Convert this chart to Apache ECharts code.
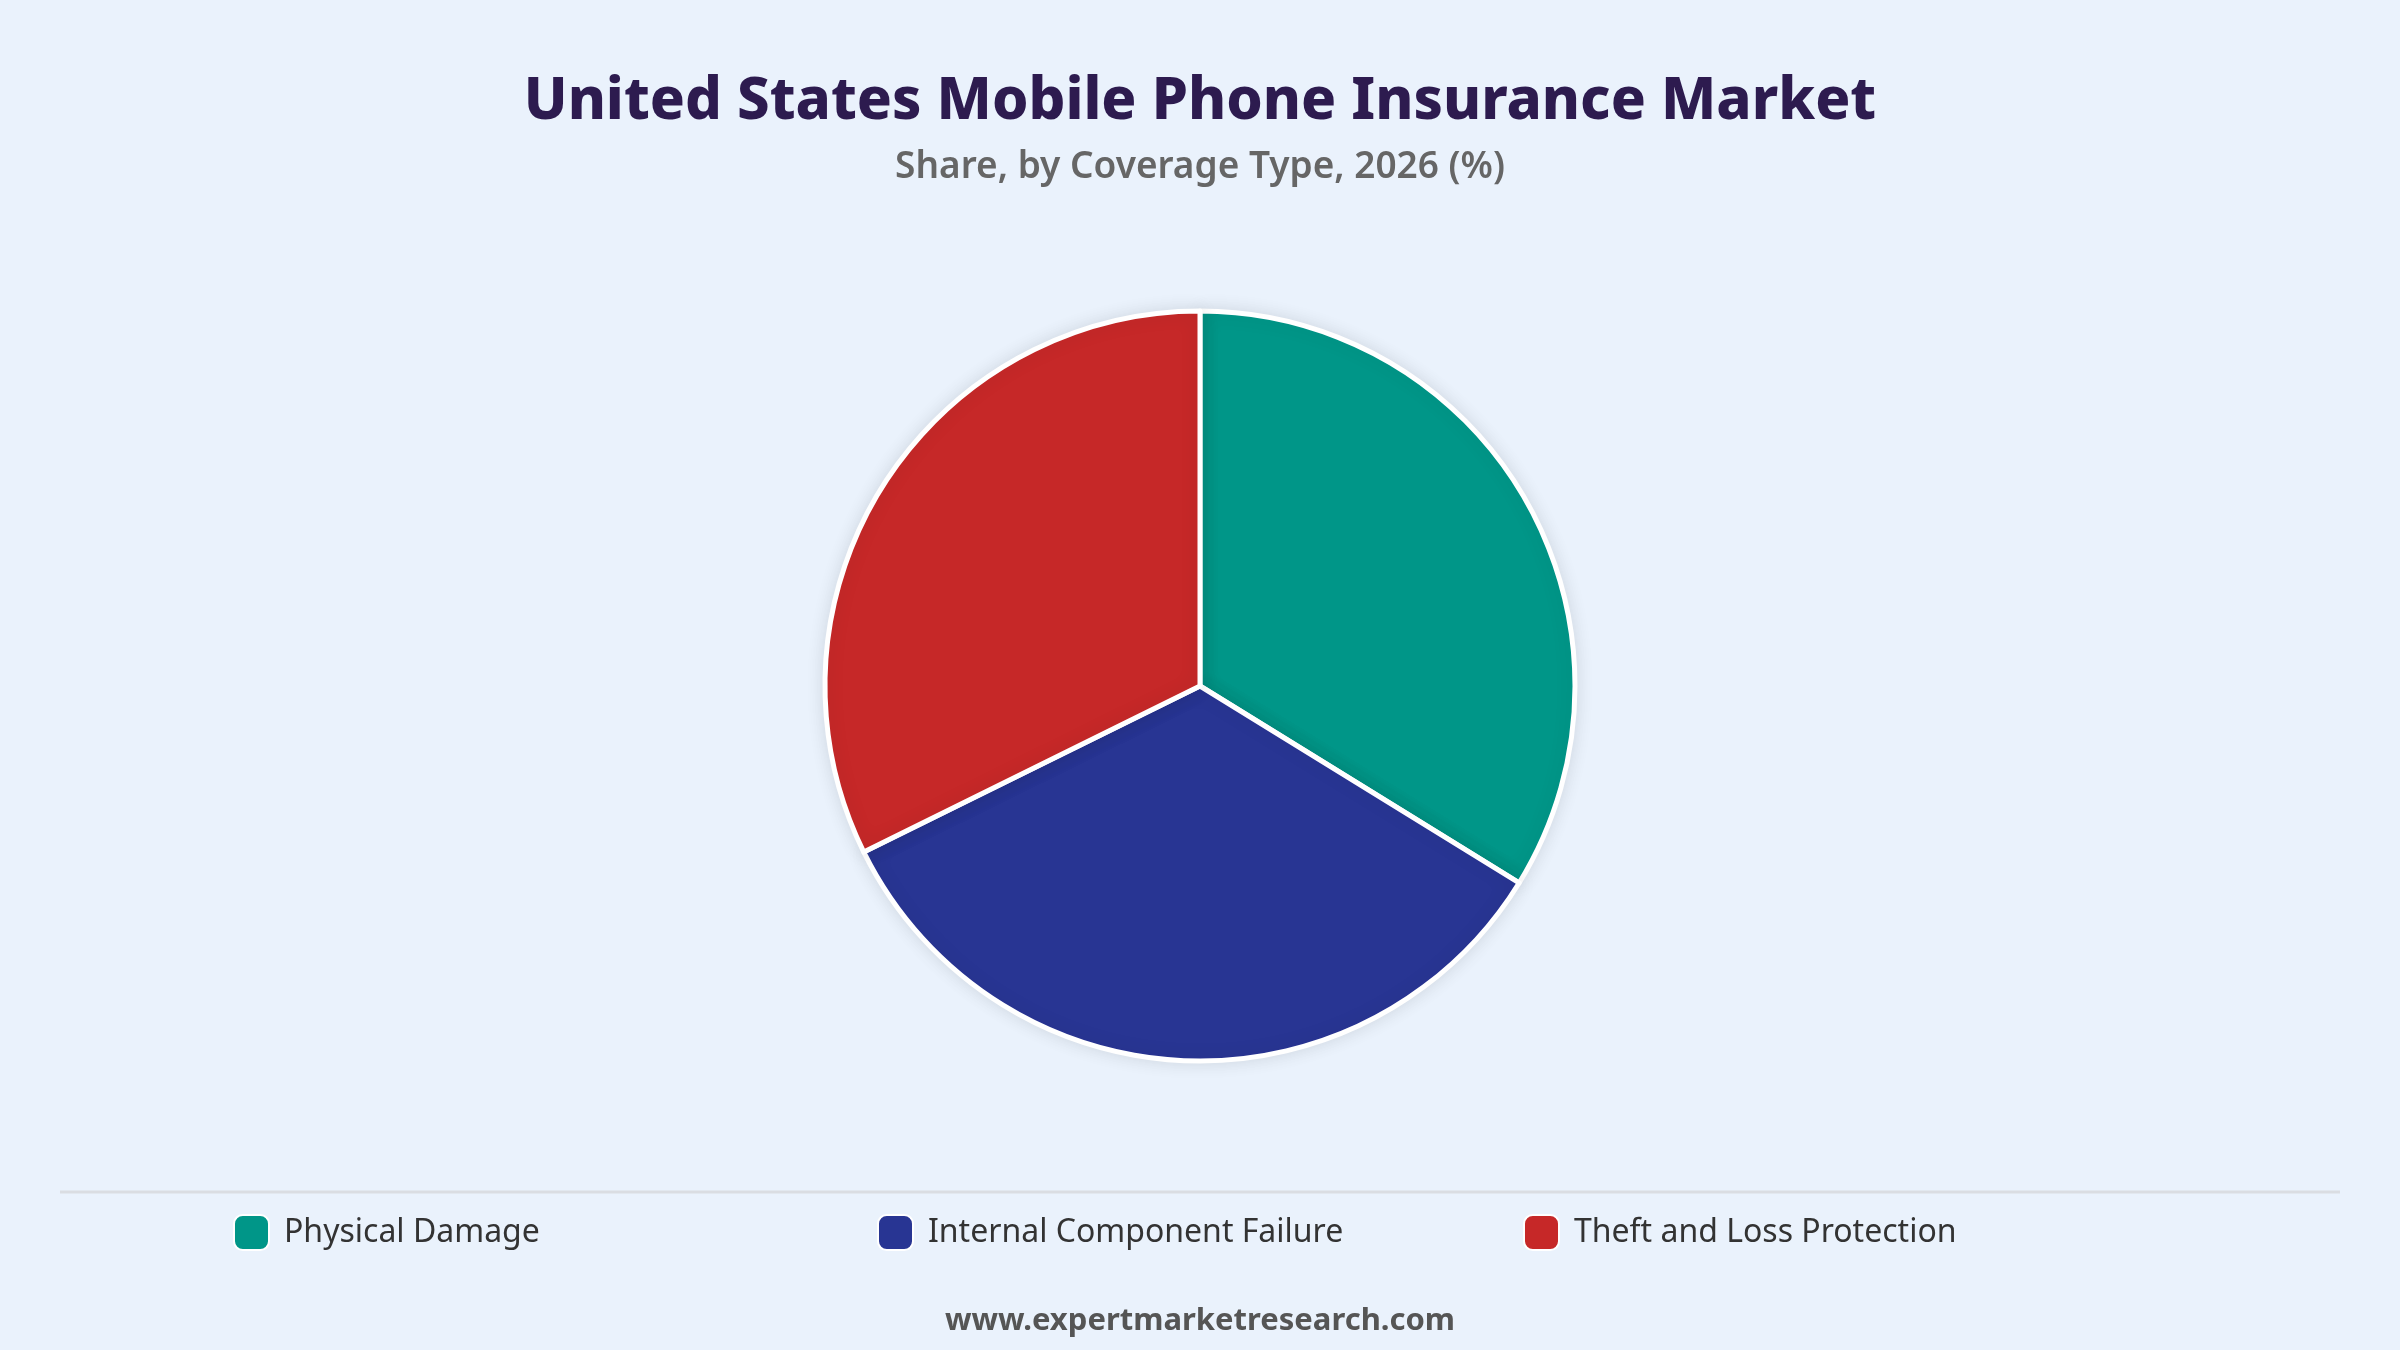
<!DOCTYPE html>
<html>
<head>
<meta charset="utf-8">
<script src="https://cdn.jsdelivr.net/npm/echarts@6/dist/echarts.min.js"></script>
<style>
  html, body { margin: 0; padding: 0; background: #EAF2FC; }
  #main { width: 2400px; height: 1350px; }
</style>
</head>
<body>
<div id="main"></div>
<script>
var categories = ['Physical Damage', 'Internal Component Failure', 'Theft and Loss Protection'];
var shares = [33.8, 33.9, 32.3];
var colors = ['#009688', '#283593', '#C62828'];

var chart = echarts.init(document.getElementById('main'), null, { renderer: 'canvas' });

var pieData = categories.map(function (name, i) {
    return { name: name, value: shares[i], itemStyle: { color: colors[i] } };
});

// one legend per entry so each sits in its own fixed column
var legendLeft = [233, 877, 1523];
var legends = categories.map(function (name, i) {
    return {
        data: [name],
        left: legendLeft[i],
        top: 1214,
        padding: 0,
        itemWidth: 35,
        itemHeight: 35,
        itemGap: 0,
        icon: 'roundRect',
        selectedMode: false,
        textStyle: { fontSize: 32, color: '#333333', fontFamily: 'Noto Sans', padding: [0, 0, 0, 10] }
    };
});

var option = {
    backgroundColor: '#EAF2FC',
    textStyle: { fontFamily: 'Noto Sans' },
    title: [
        {
            text: 'United States Mobile Phone Insurance Market',
            left: 'center',
            top: 68,
            textStyle: { fontSize: 58, fontWeight: 800, color: '#2D1B4F', fontFamily: 'Noto Sans' }
        },
        {
            text: 'Share, by Coverage Type, 2026 (%)',
            left: 'center',
            top: 144,
            textStyle: { fontSize: 37, fontWeight: 600, color: '#666666', fontFamily: 'Noto Sans' }
        },
        {
            text: 'www.expertmarketresearch.com',
            left: 'center',
            top: 1301,
            textStyle: { fontSize: 31, fontWeight: 'bold', color: '#555555', fontFamily: 'Noto Sans' }
        }
    ],
    legend: legends,
    graphic: [
        {
            type: 'line',
            shape: { x1: 60, y1: 1192, x2: 2340, y2: 1192 },
            style: { stroke: '#DADDE2', lineWidth: 3 },
            silent: true
        }
    ],
    series: [
        {
            name: 'Coverage Type',
            type: 'pie',
            center: [1200, 686],
            radius: [0, 375],
            startAngle: 90,
            clockwise: true,
            label: { show: false },
            labelLine: { show: false },
            itemStyle: {
                borderColor: '#FFFFFF',
                borderWidth: 5,
                shadowBlur: 18,
                shadowColor: 'rgba(0, 0, 0, 0.10)'
            },
            emphasis: { disabled: true },
            data: pieData
        }
    ]
};

chart.setOption(option);
window.addEventListener('resize', chart.resize);
</script>
</body>
</html>
